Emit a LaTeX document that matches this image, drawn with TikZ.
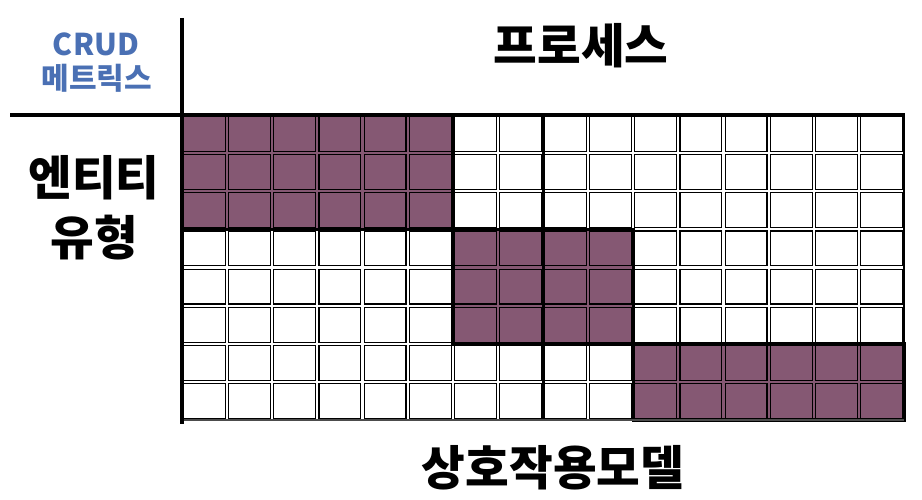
\documentclass[tikz,border=0pt]{standalone}
\usepackage{fontspec}
\newfontfamily\krfont{Noto Sans CJK KR}
\definecolor{cellfill}{HTML}{855873}
\definecolor{crudblue}{HTML}{4A70B4}
\begin{document}
\begin{tikzpicture}[x=1pt,y=-1pt,
  cellbox/.style={draw=black,line width=1.1pt},
  blockbox/.style={draw=black,line width=3.5pt},
  axisline/.style={draw=black,line width=3.8pt},
  bigtxt/.style={font=\krfont\bfseries\fontsize{47.5}{52}\selectfont,text=black,inner sep=0pt},
  smalltxt/.style={font=\krfont\bfseries\fontsize{30}{34}\selectfont,text=crudblue,inner sep=0pt}]
\useasboundingbox (0,0) rectangle (922,500);
\def\xo{182}\def\yo{115}\def\cw{45.125}\def\ch{38.125}\def\gp{1.6}
% cells
\foreach \i in {0,...,15}{
  \foreach \j in {0,...,7}{
    \pgfmathsetmacro{\fl}{(\i<6 && \j<3) || (\i>5 && \i<10 && \j>2 && \j<6) || (\i>9 && \j>5) ? 1 : 0}
    \ifdim\fl pt>0.5pt
      \fill[cellfill] (\xo+\i*\cw,\yo+\j*\ch) rectangle (\xo+\i*\cw+\cw,\yo+\j*\ch+\ch);
    \fi
    \draw[cellbox] (\xo+\i*\cw+\gp,\yo+\j*\ch+\gp) rectangle (\xo+\i*\cw+\cw-\gp,\yo+\j*\ch+\ch-\gp);
  }
}
% blocks
\draw[blockbox] (\xo,\yo) rectangle (\xo+6*\cw,\yo+3*\ch);
\draw[blockbox] (\xo+6*\cw,\yo+3*\ch) rectangle (\xo+10*\cw,\yo+6*\ch);
\draw[blockbox] (\xo+10*\cw,\yo+6*\ch) rectangle (\xo+16*\cw,\yo+8*\ch);
\draw[line width=3pt] (\xo+8*\cw,\yo) -- (\xo+8*\cw,\yo+8*\ch);
\draw[line width=2.5pt] (\xo+16*\cw,\yo) -- (\xo+16*\cw,\yo+8*\ch);
\draw[line width=1.5pt,black!70] (\xo,\yo+8*\ch) -- (\xo+16*\cw,\yo+8*\ch);
% axes
\coordinate (vtop) at (\xo,18);
\coordinate (vbot) at (\xo,424);
\coordinate (hleft) at (10,\yo);
\coordinate (hright) at (\xo+16*\cw+1,\yo);
\draw[axisline] (vtop) -- (vbot);
\draw[axisline] (hleft) -- (hright);
% labels
\node[smalltxt] (crud) at (96,44) {CRUD};
\node[smalltxt] (mat) at (97,78) {메트릭스};
\node[bigtxt] (proc) at (581,46) {프로세스};
\node[bigtxt] (ent1) at (94,178) {엔티티};
\node[bigtxt] (ent2) at (94,238) {유형};
\node[bigtxt] (model) at (553,468) {상호작용모델};
\end{tikzpicture}
\end{document}
